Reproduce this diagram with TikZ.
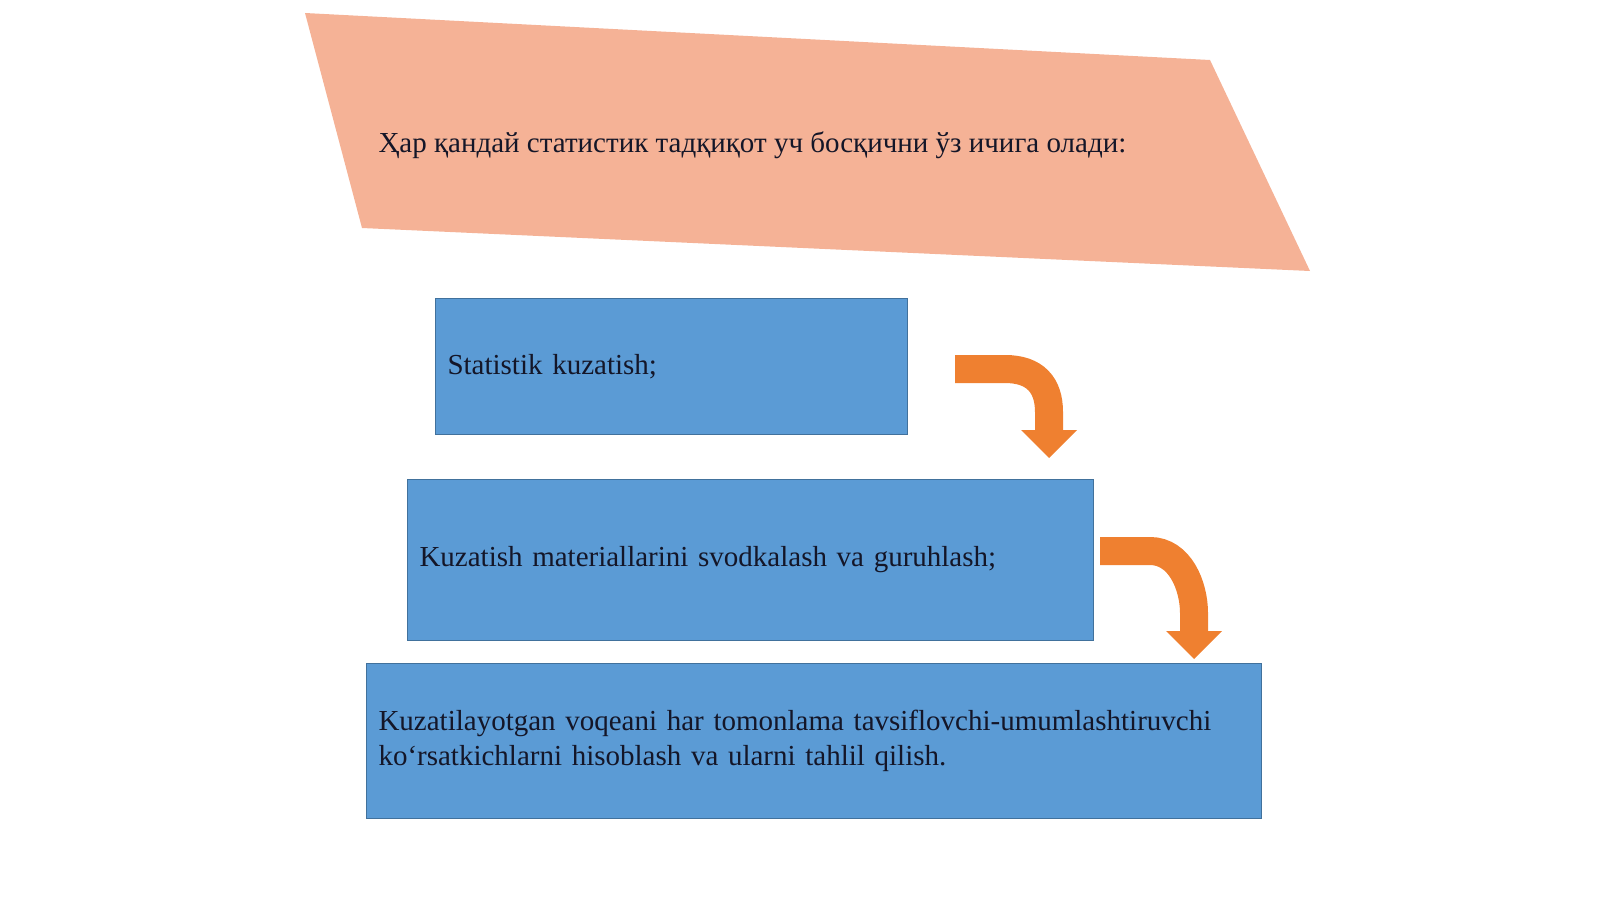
\documentclass[tikz,border=0pt]{standalone}
\usepackage{fontspec}
\setmainfont{Liberation Serif}
\definecolor{salmon}{RGB}{245,178,150}
\definecolor{boxblue}{RGB}{91,155,213}
\definecolor{boxline}{RGB}{65,113,156}
\definecolor{arroworange}{RGB}{239,128,48}
\definecolor{textdark}{RGB}{20,22,40}
\tikzset{
  stepbox/.style={draw=boxline, line width=1pt, fill=boxblue, anchor=north west,
    align=left, inner xsep=12pt, font=\fontsize{29}{35}\selectfont, text=textdark},
  bendshaft/.style={draw=arroworange, line width=28pt},
  bendhead/.style={fill=arroworange, draw=none}
}
\begin{document}
\begin{tikzpicture}[x=1pt, y=-1pt]
            \useasboundingbox (0,0) rectangle (1600,899);

            % Title banner
            \fill[salmon] (305,13) -- (1210,60) -- (1310,271) -- (362,228) -- cycle;
            \node[anchor=west, font=\fontsize{29}{35}\selectfont, text=textdark] (title) at (375,145)
                {Ҳар қандай статистик тадқиқот уч босқични ўз ичига олади:};

            % Stage boxes
            \node[stepbox, text width=448pt, minimum height=136pt] (obs) at (435,298) {Statistik kuzatish;};
            \node[stepbox, text width=662pt, minimum height=161pt] (group) at (407,479)
                {Kuzatish materiallarini svodkalash va guruhlash;};
            \node[stepbox, text width=871pt, minimum height=155pt] (analysis) at (366,663)
                {Kuzatilayotgan voqeani har tomonlama tavsiflovchi-umumlashtiruvchi\\ko‘rsatkichlarni hisoblash va ularni tahlil qilish.};

            % Bent arrows
            \coordinate (a1) at (955,369);
            \coordinate (b1) at (1049,430);
            \coordinate (a2) at (1100,551);
            \coordinate (b2) at (1194,631);
            \foreach \s/\e in {a1/b1, a2/b2} {
                \draw[bendshaft] (\s) -- ([xshift=50]\s) .. controls ([xshift=80]\s) and ([yshift=45]\e) .. ([yshift=18]\e) -- (\e);
                \fill[bendhead] ([xshift=-28]\e) -- ([xshift=28]\e) -- ([yshift=-28]\e) -- cycle;
            }
        \end{tikzpicture}
\end{document}
